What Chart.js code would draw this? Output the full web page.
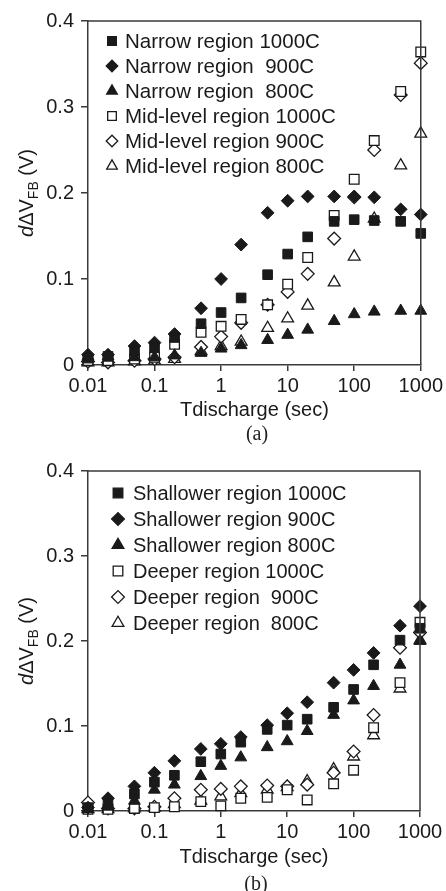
<!DOCTYPE html>
<html>
<head>
<meta charset="utf-8">
<script src="https://cdn.jsdelivr.net/npm/chart.js@4/dist/chart.umd.min.js"></script>
<style>
  body { margin: 0; background: #fff; }
  #wrap { position: relative; width: 446px; height: 891px; overflow: hidden; }
  .panel { position: absolute; left: 0; }
  .cap { position: absolute; width: 80px; text-align: center; font: 20px "Liberation Serif", serif; color: #222; line-height: 24px; }
</style>
</head>
<body>
<div id="wrap">
  <div class="panel" style="top:0"><canvas id="chartA" width="446" height="445"></canvas></div>
  <div class="panel" style="top:445px"><canvas id="chartB" width="446" height="446"></canvas></div>
  <div class="cap" style="left:217px; top:421px">(a)</div>
  <div class="cap" style="left:216px; top:871px">(b)</div>
</div>
<script>
// --- Data ---
const tdischarge = [0.01, 0.02, 0.05, 0.1, 0.2, 0.5, 1, 2, 5, 10, 20, 50, 100, 200, 500, 1000];
const xTickValues = [0.01, 0.1, 1, 10, 100, 1000];

// panel (a)
const labelsA = ['Narrow region 1000C', 'Narrow region  900C', 'Narrow region  800C',
                 'Mid-level region 1000C', 'Mid-level region 900C', 'Mid-level region 800C'];
const narrow1000 = [0.008, 0.010, 0.016, 0.020, 0.032, 0.048, 0.061, 0.078, 0.105, 0.129, 0.149, 0.167, 0.169, 0.168, 0.167, 0.153];
const narrow900  = [0.012, 0.012, 0.022, 0.026, 0.036, 0.066, 0.100, 0.140, 0.177, 0.191, 0.196, 0.196, 0.196, 0.195, 0.181, 0.175];
const narrow800  = [0.010, 0.010, 0.009, 0.009, 0.011, 0.014, 0.019, 0.023, 0.029, 0.035, 0.041, 0.051, 0.059, 0.062, 0.063, 0.063];
const mid1000    = [0.005, 0.005, 0.007, 0.009, 0.024, 0.038, 0.045, 0.053, 0.070, 0.094, 0.125, 0.174, 0.216, 0.261, 0.318, 0.364];
const mid900     = [0.004, 0.003, 0.005, 0.007, 0.009, 0.021, 0.033, 0.049, 0.070, 0.085, 0.106, 0.147, 0.195, 0.250, 0.314, 0.351];
const mid800     = [0.003, 0.003, 0.004, 0.005, 0.007, 0.016, 0.022, 0.027, 0.043, 0.054, 0.069, 0.096, 0.126, 0.170, 0.232, 0.269];

// panel (b)
const labelsB = ['Shallower region 1000C', 'Shallower region 900C', 'Shallower region 800C',
                 'Deeper region 1000C', 'Deeper region  900C', 'Deeper region  800C'];
const shallow1000 = [0.004, 0.008, 0.020, 0.034, 0.042, 0.058, 0.067, 0.081, 0.096, 0.101, 0.108, 0.122, 0.143, 0.172, 0.201, 0.215];
const shallow900  = [0.004, 0.015, 0.029, 0.045, 0.059, 0.073, 0.079, 0.087, 0.101, 0.115, 0.128, 0.151, 0.166, 0.186, 0.218, 0.241];
const shallow800  = [0.002, 0.005, 0.012, 0.025, 0.031, 0.041, 0.053, 0.063, 0.075, 0.082, 0.094, 0.113, 0.130, 0.147, 0.172, 0.200];
const deeper1000  = [0.002, 0.002, 0.003, 0.004, 0.005, 0.011, 0.006, 0.015, 0.016, 0.025, 0.013, 0.032, 0.048, 0.098, 0.151, 0.222];
const deeper900   = [0.010, 0.003, 0.003, 0.005, 0.015, 0.025, 0.026, 0.029, 0.030, 0.029, 0.031, 0.045, 0.070, 0.113, 0.192, 0.210];
const deeper800   = [0.002, 0.002, 0.003, 0.004, 0.008, 0.012, 0.017, 0.021, 0.025, 0.028, 0.035, 0.049, 0.064, 0.089, 0.144, 0.201];

// --- Styles ---
const FONT = '"Liberation Sans", Arial, sans-serif';
const INK = '#1a1a1a';
const AXIS = '#3a3a3a';
const markers = [
  { shape: 'rect', filled: true, r: 6.8 },
  { shape: 'rectRot', filled: true, r: 6.4 },
  { shape: 'triangle', filled: true, r: 6.8 },
  { shape: 'rect', filled: false, r: 6.8 },
  { shape: 'rectRot', filled: false, r: 6.4 },
  { shape: 'triangle', filled: false, r: 6.8 }
];

function drawMarker(ctx, shape, x, y, r, filled) {
  ctx.beginPath();
  if (shape === 'rect') {
    const h = r * Math.SQRT1_2;
    ctx.rect(x - h, y - h, 2 * h, 2 * h);
  } else if (shape === 'rectRot') {
    ctx.moveTo(x - r, y); ctx.lineTo(x, y - r); ctx.lineTo(x + r, y); ctx.lineTo(x, y + r);
    ctx.closePath();
  } else {
    const a = 2 * Math.PI / 3;
    ctx.moveTo(x, y - r);
    ctx.lineTo(x + Math.sin(a) * r, y - Math.cos(a) * r);
    ctx.lineTo(x + Math.sin(2 * a) * r, y - Math.cos(2 * a) * r);
    ctx.closePath();
  }
  ctx.fillStyle = filled ? INK : '#fff';
  ctx.fill();
  ctx.lineWidth = 1.3;
  ctx.strokeStyle = INK;
  ctx.stroke();
}

// top + right border of the plot box
const framePlugin = {
  id: 'frame',
  afterDatasetsDraw(chart) {
    const { ctx, chartArea: a } = chart;
    ctx.save();
    ctx.strokeStyle = AXIS;
    ctx.lineWidth = 1.5;
    ctx.beginPath();
    ctx.moveTo(a.left, a.top);
    ctx.lineTo(a.right, a.top);
    ctx.lineTo(a.right, a.bottom);
    ctx.stroke();
    ctx.restore();
  }
};

// rotated y title  d ΔV_FB (V)
const yTitlePlugin = {
  id: 'yTitle',
  afterDraw(chart) {
    const { ctx, chartArea: a } = chart;
    const parts = [
      { t: 'd', f: 'italic 20px ' + FONT, dy: 0 },
      { t: '\u0394V', f: '20px ' + FONT, dy: 0 },
      { t: 'FB', f: '14px ' + FONT, dy: 5 },
      { t: ' (V)', f: '20px ' + FONT, dy: 0 }
    ];
    let total = 0;
    parts.forEach(p => { ctx.font = p.f; p.w = ctx.measureText(p.t).width; total += p.w; });
    ctx.save();
    ctx.translate(33, (a.top + a.bottom) / 2);
    ctx.rotate(-Math.PI / 2);
    ctx.fillStyle = INK;
    ctx.textBaseline = 'alphabetic';
    let x = -total / 2;
    parts.forEach(p => { ctx.font = p.f; ctx.fillText(p.t, x, p.dy); x += p.w; });
    ctx.restore();
  }
};

// legend inside plot area
const insideLegend = {
  id: 'insideLegend',
  afterDraw(chart, args, opts) {
    const ctx = chart.ctx;
    ctx.save();
    ctx.font = opts.size + 'px ' + FONT;
    ctx.textBaseline = 'middle';
    chart.data.datasets.forEach((ds, i) => {
      const y = chart.chartArea.top + opts.y0 + opts.dy * i;
      const m = markers[i];
      drawMarker(ctx, m.shape, opts.mx, y, m.r * opts.scale, m.filled);
      ctx.fillStyle = INK;
      ctx.fillText(ds.label, opts.tx, y + 1);
    });
    ctx.restore();
  }
};

function buildDatasets(labels, series) {
  return series.map((vals, i) => ({
    label: labels[i],
    data: tdischarge.map((t, k) => ({ x: t, y: vals[k] })),
    showLine: false,
    clip: false,
    pointStyle: markers[i].shape,
    pointRadius: markers[i].r,
    pointHoverRadius: markers[i].r,
    pointBackgroundColor: markers[i].filled ? INK : '#fff',
    pointBorderColor: INK,
    pointBorderWidth: markers[i].filled ? 1 : 1.3
  }));
}

function makeChart(id, labels, series, geo) {
  return new Chart(document.getElementById(id), {
    type: 'scatter',
    data: { datasets: buildDatasets(labels, series) },
    options: {
      responsive: false,
      animation: false,
      events: [],
      layout: { padding: { top: geo.top, bottom: geo.bottom, left: 0, right: geo.right } },
      plugins: {
        legend: { display: false },
        tooltip: { enabled: false },
        insideLegend: geo.legend
      },
      scales: {
        x: {
          type: 'logarithmic',
          min: 0.01,
          max: 1000,
          afterBuildTicks: s => { s.ticks = xTickValues.map(v => ({ value: v })); },
          afterFit: s => { s.height = geo.xh; },
          ticks: {
            callback: v => String(v),
            autoSkip: false,
            maxRotation: 0,
            padding: 3,
            color: INK,
            font: { family: FONT, size: 20 }
          },
          grid: { drawOnChartArea: false, drawTicks: true, tickLength: 6, color: AXIS, lineWidth: 1.5 },
          border: { color: AXIS, width: 1.5 },
          title: { display: true, text: 'Tdischarge (sec)', color: INK, padding: 0, font: { family: FONT, size: 20 } }
        },
        y: {
          min: 0,
          max: 0.4,
          afterFit: s => { s.width = 88; },
          ticks: {
            stepSize: 0.1,
            callback: v => (v === 0 ? '0' : v.toFixed(1)),
            padding: 7,
            color: INK,
            font: { family: FONT, size: 20 }
          },
          grid: { drawOnChartArea: false, drawTicks: true, tickLength: 7, color: AXIS, lineWidth: 1.5 },
          border: { color: AXIS, width: 1.5 }
        }
      }
    },
    plugins: [framePlugin, yTitlePlugin, insideLegend]
  });
}

makeChart('chartA', labelsA, [narrow1000, narrow900, narrow800, mid1000, mid900, mid800],
  { top: 21, bottom: 23, right: 23, xh: 57,
    legend: { mx: 112, tx: 125, y0: 20, dy: 25, scale: 0.9, size: 20.5 } });

makeChart('chartB', labelsB, [shallow1000, shallow900, shallow800, deeper1000, deeper900, deeper800],
  { top: 26, bottom: 22, right: 26, xh: 58,
    legend: { mx: 118, tx: 133, y0: 22, dy: 26, scale: 1.0, size: 20 } });
</script>
</body>
</html>
